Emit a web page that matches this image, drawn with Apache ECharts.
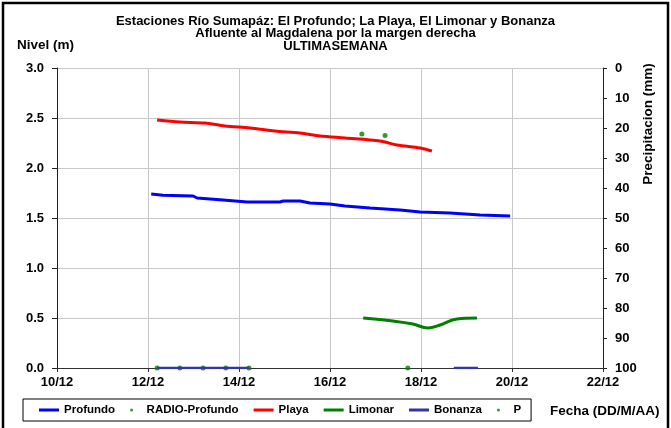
<!DOCTYPE html>
<html>
<head>
<meta charset="utf-8">
<script src="https://cdn.jsdelivr.net/npm/echarts@6/dist/echarts.min.js"></script>
<style>
  html, body { margin: 0; padding: 0; background: #fff; }
  #chart { width: 671px; height: 428px; }
</style>
</head>
<body>
<div id="chart"></div>
<script>
// dias de diciembre (eje x) y niveles leidos
const profundo = [
  [12.07, 1.74], [12.11, 1.73], [12.33, 1.727], [12.99, 1.72], [13.08, 1.70],
  [13.65, 1.68], [14.18, 1.66], [14.90, 1.66], [14.97, 1.67], [15.34, 1.67],
  [15.56, 1.65], [16.00, 1.64], [16.33, 1.62], [16.88, 1.60], [17.54, 1.58],
  [17.98, 1.56], [18.64, 1.55], [19.30, 1.53], [19.96, 1.52]
];
const playa = [
  [12.20, 2.48], [12.70, 2.46], [13.25, 2.45], [13.69, 2.42], [14.24, 2.40],
  [14.79, 2.37], [15.34, 2.35], [15.78, 2.32], [16.33, 2.30], [17.10, 2.27],
  [17.47, 2.23], [17.98, 2.20], [18.24, 2.17]
];
const limonar = [
  [16.73, 0.50], [17.38, 0.47], [17.82, 0.44], [18.15, 0.40], [18.42, 0.43],
  [18.79, 0.49], [19.23, 0.50]
];
const bonanza = [
  [12.20, 0], [14.22, 0], null, [18.72, 0], [19.25, 0]
];
const radioProfundo = [
  [12.20, 0], [12.70, 0], [13.21, 0], [13.71, 0], [14.22, 0], [17.71, 0]
];
const precip = [[16.70, 22], [17.21, 22.5]];

const axisFont = { color: '#000', fontSize: 13, fontWeight: 'bold', fontFamily: 'Liberation Sans' };

const chart = echarts.init(document.getElementById('chart'));
chart.setOption({
  animation: false,
  backgroundColor: '#fff',
  title: {
    text: 'Estaciones Río Sumapáz: El Profundo; La Playa, El Limonar y Bonanza\nAfluente al Magdalena por la margen derecha\nULTIMASEMANA',
    left: 'center',
    top: 10,
    textStyle: { color: '#000', fontSize: 13, fontWeight: 'bold', fontFamily: 'Liberation Sans', lineHeight: 12.5 }
  },
  grid: { left: 57, right: 68, top: 68, bottom: 60 },
  legend: {
    left: 23, top: 399,
    padding: [5, 10, 5, 16],
    itemGap: 15,
    itemWidth: 20, itemHeight: 3,
    borderColor: '#000', borderWidth: 1,
    textStyle: { color: '#000', fontSize: 11.5, fontWeight: 'bold', fontFamily: 'Liberation Sans' },
    data: [
      { name: 'Profundo', icon: 'rect' },
      { name: 'RADIO-Profundo', icon: 'circle' },
      { name: 'Playa', icon: 'rect' },
      { name: 'Limonar', icon: 'rect' },
      { name: 'Bonanza', icon: 'rect' },
      { name: 'P', icon: 'circle' }
    ]
  },
  xAxis: {
    type: 'value', min: 10, max: 22, interval: 2,
    axisLine: { onZero: false, lineStyle: { color: '#303030' } },
    axisTick: { show: true, length: 4, lineStyle: { color: '#303030' } },
    axisLabel: Object.assign({ formatter: v => v + '/12', margin: 8 }, axisFont),
    splitLine: { show: true, lineStyle: { color: '#c8c8c8' } }
  },
  yAxis: [
    {
      type: 'value', min: 0, max: 3, interval: 0.5,
      axisLine: { show: true, lineStyle: { color: '#202020' } },
      axisTick: { show: true, length: 5, lineStyle: { color: '#202020' } },
      axisLabel: Object.assign({ formatter: v => v.toFixed(1), margin: 13 }, axisFont),
      splitLine: { show: true, lineStyle: { color: '#c8c8c8' } }
    },
    {
      type: 'value', min: 0, max: 100, interval: 10, inverse: true, position: 'right',
      axisLine: { show: true, lineStyle: { color: '#202020' } },
      axisTick: { show: true, length: 4, lineStyle: { color: '#202020' } },
      axisLabel: Object.assign({ margin: 12 }, axisFont),
      splitLine: { show: false }
    }
  ],
  series: [
    { name: 'Profundo', type: 'line', data: profundo, showSymbol: false, color: '#0000ff', lineStyle: { width: 3 } },
    { name: 'RADIO-Profundo', type: 'scatter', data: radioProfundo, symbolSize: 5, color: '#008000' },
    { name: 'Playa', type: 'line', data: playa, showSymbol: false, smooth: 0.3, color: '#ff0000', lineStyle: { width: 3 } },
    { name: 'Limonar', type: 'line', data: limonar, showSymbol: false, smooth: 0.4, color: '#008000', lineStyle: { width: 3 } },
    { name: 'Bonanza', type: 'line', data: bonanza, showSymbol: false, connectNulls: false, color: '#3333aa', lineStyle: { width: 2.5 } },
    { name: 'P', type: 'scatter', yAxisIndex: 1, data: precip, symbolSize: 5, color: '#008000' }
  ],
  graphic: [
    { type: 'rect', shape: { x: 3, y: 3, width: 665, height: 440 }, style: { fill: 'none', stroke: '#000', lineWidth: 2.5 }, silent: true },
    { type: 'text', left: 17, top: 38, style: { text: 'Nivel (m)', fill: '#000', font: 'bold 13.5px "Liberation Sans"' } },
    { type: 'text', x: 648, y: 124, rotation: Math.PI / 2,
      style: { text: 'Precipitacion (mm)', fill: '#000', font: 'bold 13.5px "Liberation Sans"', align: 'center', verticalAlign: 'middle' } },
    { type: 'text', left: 550, top: 404, style: { text: 'Fecha (DD/M/AA)', fill: '#000', font: 'bold 13.5px "Liberation Sans"' } }
  ]
});
</script>
</body>
</html>
